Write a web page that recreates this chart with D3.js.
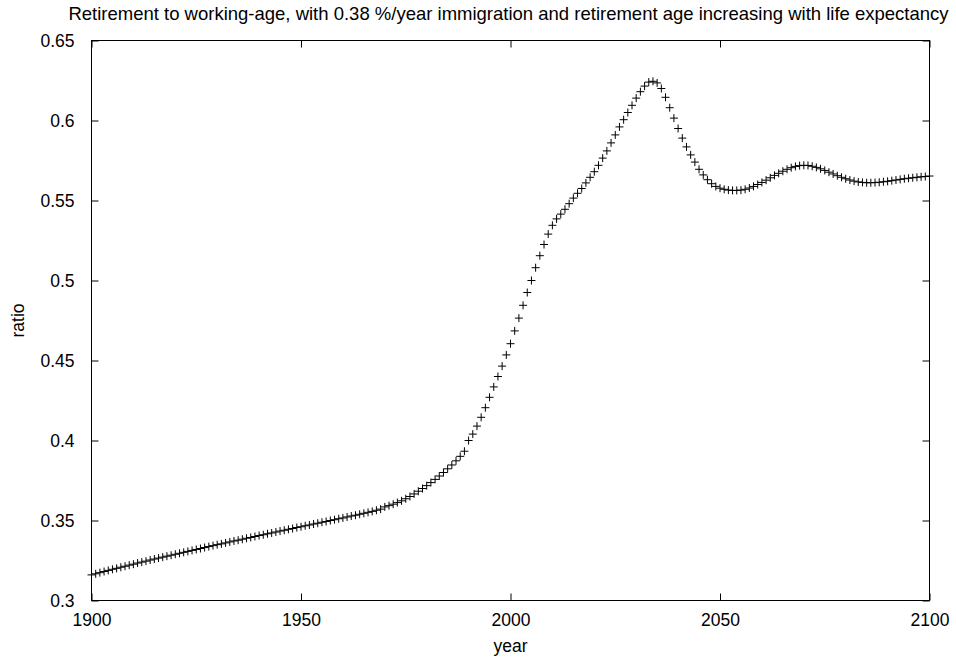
<!DOCTYPE html>
<html><head><meta charset="utf-8">
<script src="https://cdn.jsdelivr.net/npm/d3@7"></script>
<style>body{margin:0;background:#fff}svg{display:block}text{font-family:"Liberation Sans",Arial,sans-serif;fill:#000}</style>
</head><body>
<svg id="c" width="956" height="657"></svg>
<script>
const title = "Retirement to working-age, with 0.38 %/year immigration and retirement age increasing with life expectancy";
const xLabel = "year";
const yLabel = "ratio";
const xTicks = [1900, 1950, 2000, 2050, 2100];
const yTicks = [0.3, 0.35, 0.4, 0.45, 0.5, 0.55, 0.6, 0.65];
const startYear = 1900;
const ratio = [
0.3160,0.3167,0.3174,0.3181,0.3188,0.3195,0.3201,0.3208,0.3214,0.3221,
0.3227,0.3234,0.3240,0.3246,0.3253,0.3259,0.3265,0.3271,0.3277,0.3283,
0.3289,0.3295,0.3301,0.3307,0.3313,0.3319,0.3325,0.3331,0.3337,0.3343,
0.3349,0.3354,0.3360,0.3366,0.3372,0.3377,0.3383,0.3389,0.3394,0.3400,
0.3406,0.3411,0.3417,0.3422,0.3428,0.3434,0.3439,0.3445,0.3450,0.3456,
0.3461,0.3467,0.3472,0.3478,0.3483,0.3489,0.3494,0.3500,0.3505,0.3511,
0.3516,0.3522,0.3528,0.3533,0.3539,0.3545,0.3551,0.3557,0.3564,0.3571,
0.3585,0.3593,0.3602,0.3612,0.3623,0.3636,0.3650,0.3666,0.3683,0.3700,
0.3718,0.3737,0.3757,0.3778,0.3800,0.3823,0.3847,0.3873,0.3901,0.3933,
0.4000,0.4040,0.4090,0.4145,0.4205,0.4270,0.4335,0.4400,0.4465,0.4535,
0.4605,0.4685,0.4765,0.4845,0.4925,0.5000,0.5080,0.5155,0.5225,0.5290,
0.5345,0.5385,0.5415,0.5445,0.5480,0.5515,0.5545,0.5575,0.5610,0.5645,
0.5680,0.5720,0.5765,0.5810,0.5860,0.5910,0.5960,0.6005,0.6050,0.6095,
0.6140,0.6180,0.6215,0.6240,0.6245,0.6235,0.6200,0.6145,0.6080,0.6015,
0.5950,0.5890,0.5835,0.5785,0.5740,0.5695,0.5660,0.5630,0.5605,0.5588,
0.5577,0.5570,0.5565,0.5563,0.5563,0.5565,0.5570,0.5578,0.5588,0.5600,
0.5613,0.5627,0.5642,0.5657,0.5670,0.5683,0.5695,0.5705,0.5713,0.5718,
0.5720,0.5719,0.5714,0.5707,0.5698,0.5688,0.5677,0.5666,0.5655,0.5645,
0.5636,0.5628,0.5621,0.5616,0.5613,0.5611,0.5611,0.5612,0.5614,0.5617,
0.5620,0.5624,0.5628,0.5632,0.5636,0.5639,0.5642,0.5645,0.5648,0.5650,
0.5653
];
const years = ratio.map((_, i) => startYear + i);

const svg = d3.select("#c");
const L = 91.5, R = 929.5, T = 40.5, B = 600.5;
const x = d3.scaleLinear().domain([1900, 2100]).range([L, R]);
const y = d3.scaleLinear().domain([0.3, 0.65]).range([B, T]);
const tl = 7;
const fs = 17.5;

svg.append("rect").attr("x", L).attr("y", T).attr("width", R - L).attr("height", B - T)
  .attr("fill", "none").attr("stroke", "#000").attr("stroke-width", 1);

const gx = svg.append("g").attr("transform", `translate(0,${B})`)
  .call(d3.axisBottom(x).tickValues(xTicks).tickFormat(d3.format("d")).tickSize(-tl).tickPadding(tl + 6));
const gxt = svg.append("g").attr("transform", `translate(0,${T})`)
  .call(d3.axisTop(x).tickValues(xTicks).tickSize(-tl).tickFormat(""));
const gy = svg.append("g").attr("transform", `translate(${L},0)`)
  .call(d3.axisLeft(y).tickValues(yTicks).tickFormat(d => String(+d.toFixed(2))).tickSize(-tl).tickPadding(tl + 10));
const gyr = svg.append("g").attr("transform", `translate(${R},0)`)
  .call(d3.axisRight(y).tickValues(yTicks).tickSize(-tl).tickFormat(""));
[gx, gxt, gy, gyr].forEach(g => {
  g.select(".domain").remove();
  g.selectAll("line").attr("stroke", "#000");
  g.selectAll("text").attr("font-size", fs).attr("font-family", "Liberation Sans, Arial, sans-serif").attr("fill", "#000");
});

const s = 4;
const pts = svg.append("g").attr("stroke", "#000").attr("stroke-width", 1);
ratio.forEach((v, i) => {
  const px = x(years[i]), py = y(v);
  pts.append("path").attr("d", `M${px - s},${py}H${px + s}M${px},${py - s}V${py + s}`);
});

svg.append("text").attr("x", 508.5).attr("y", 20).attr("text-anchor", "middle").attr("font-size", 18.5).text(title);
svg.append("text").attr("x", x(2000)).attr("y", 652).attr("text-anchor", "middle").attr("font-size", fs).text(xLabel);
svg.append("text").attr("transform", `translate(24,${(T + B) / 2}) rotate(-90)`).attr("text-anchor", "middle").attr("font-size", fs).text(yLabel);
</script>
</body></html>
